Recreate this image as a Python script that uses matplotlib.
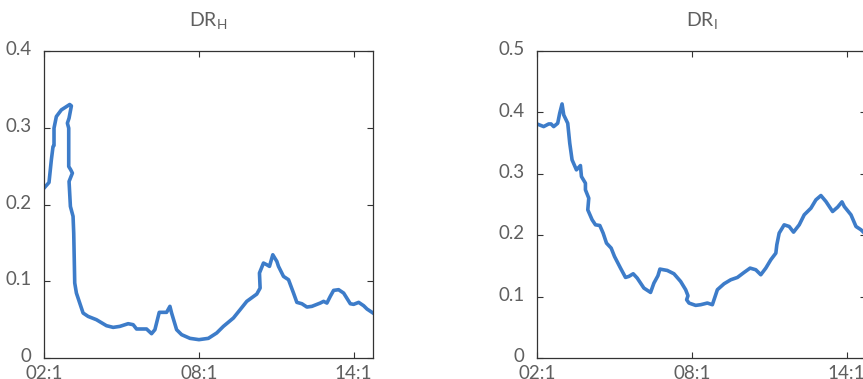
import matplotlib
matplotlib.use("Agg")
import matplotlib.pyplot as plt
from matplotlib.transforms import ScaledTranslation

# hours after 02:15
t_h = [0, 0.194, 0.285, 0.350, 0.388, 0.388, 0.479, 0.673, 0.997, 1.061, 0.971, 0.906,
       0.958, 0.958, 1.036, 1.100, 0.971, 1.023, 1.126, 1.152, 1.191, 1.256, 1.385, 1.515,
       1.709, 2.032, 2.421, 2.680, 2.939, 3.262, 3.456, 3.586, 3.974, 4.168, 4.298, 4.466,
       4.751, 4.880, 4.945, 5.139, 5.333, 5.657, 6.006, 6.369, 6.693, 6.951, 7.340, 7.599,
       7.858, 8.246, 8.375, 8.350, 8.505, 8.634, 8.738, 8.867, 9.023, 9.087, 9.282, 9.476,
       9.670, 9.799, 9.994, 10.188, 10.382, 10.706, 10.835, 10.964, 11.094, 11.223, 11.417,
       11.612, 11.871, 12.0, 12.194, 12.388, 12.518, 12.751]
dr_h = [0.2213, 0.2287, 0.2582, 0.2756, 0.2769, 0.2995, 0.3146, 0.3233, 0.3303, 0.3285,
        0.3125, 0.306, 0.2995, 0.2495, 0.2452, 0.2409, 0.23, 0.1975, 0.1845, 0.1627, 0.0977,
        0.0846, 0.0716, 0.0586, 0.0542, 0.0499, 0.0421, 0.0399, 0.0412, 0.0447, 0.0434,
        0.0378, 0.0378, 0.0317, 0.0369, 0.0595, 0.0595, 0.0673, 0.0586, 0.0369, 0.0304,
        0.0256, 0.0239, 0.0256, 0.0326, 0.0412, 0.0521, 0.0629, 0.0738, 0.0833, 0.0911,
        0.1107, 0.1237, 0.1215, 0.1194, 0.1345, 0.1259, 0.1194, 0.1063, 0.102, 0.0846,
        0.0725, 0.0707, 0.0664, 0.0673, 0.0716, 0.0738, 0.0716, 0.0803, 0.0881, 0.089,
        0.0846, 0.0707, 0.0699, 0.0725, 0.0681, 0.0638, 0.0586]

t_i = [0, 0.259, 0.453, 0.544, 0.647, 0.802, 0.880, 0.971, 1.036, 1.191, 1.269, 1.359,
       1.528, 1.683, 1.722, 1.877, 1.877, 2.006, 1.968, 2.136, 2.266, 2.434, 2.563, 2.693,
       2.874, 3.003, 3.236, 3.430, 3.560, 3.728, 3.883, 4.142, 4.401, 4.531, 4.686, 4.764,
       5.049, 5.307, 5.566, 5.761, 5.851, 5.799, 5.890, 6.149, 6.343, 6.602, 6.796, 6.990,
       7.249, 7.508, 7.767, 8.026, 8.259, 8.479, 8.673, 8.867, 9.061, 9.256, 9.294, 9.385,
       9.579, 9.773, 9.942, 10.162, 10.356, 10.615, 10.809, 11.003, 11.197, 11.456, 11.65,
       11.819, 11.909, 12.168, 12.362, 12.557, 12.686, 12.75]
dr_i = [0.3812, 0.3769, 0.3812, 0.3812, 0.3769, 0.3823, 0.3986, 0.4138, 0.3959, 0.3823,
        0.3498, 0.3227, 0.3064, 0.3134, 0.2956, 0.2847, 0.2739, 0.2603, 0.2413, 0.2251,
        0.2169, 0.2158, 0.2034, 0.1871, 0.179, 0.1654, 0.1464, 0.1312, 0.1329, 0.1372,
        0.1302, 0.1139, 0.1068, 0.122, 0.1339, 0.1448, 0.1426, 0.1372, 0.1247, 0.1112,
        0.1014, 0.0949, 0.0895, 0.0857, 0.0868, 0.0895, 0.0868, 0.1112, 0.1209, 0.1274,
        0.1312, 0.1394, 0.1464, 0.1437, 0.1356, 0.1464, 0.16, 0.1708, 0.1844, 0.2034,
        0.2169, 0.2142, 0.205, 0.2169, 0.2332, 0.244, 0.2576, 0.2646, 0.2549, 0.2386,
        0.2457, 0.2543, 0.2467, 0.2332, 0.2142, 0.2088, 0.2034, 0.2000]

x_ticks = [0, 6, 12]
x_labels = ["02:1", "08:1", "14:1"]
y_ticks_h = [0, 0.1, 0.2, 0.3, 0.4]
y_labels_h = ["0", "0.1", "0.2", "0.3", "0.4"]
y_ticks_i = [0, 0.1, 0.2, 0.3, 0.4, 0.5]
y_labels_i = ["0", "0.1", "0.2", "0.3", "0.4", "0.5"]

plt.rcParams['font.family'] = ['Lato', 'DejaVu Sans']
plt.rcParams['mathtext.fontset'] = 'custom'
plt.rcParams['mathtext.rm'] = 'Lato'

line_color = '#3d7cc9'
text_color = '#5f5f5f'

fig = plt.figure(figsize=(8.63, 3.79), dpi=100)
ax1 = fig.add_axes([44 / 863, 1 - 358 / 379, 329 / 863, 307 / 379])
ax2 = fig.add_axes([537 / 863, 1 - 358 / 379, 329 / 863, 307 / 379])


def style(ax, yt, yl, ymax, title):
    ax.set_xlim(0, 12.75)
    ax.set_ylim(0, ymax)
    ax.set_xticks(x_ticks)
    ax.set_xticklabels(x_labels)
    ax.set_yticks(yt)
    ax.set_yticklabels(yl)
    ax.tick_params(direction='in', top=True, right=True, length=4, width=0.8,
                   color='#333333', labelcolor=text_color, labelsize=13.5)
    ax.tick_params(axis='y', pad=9)
    ax.tick_params(axis='x', pad=5)
    # nudge y labels up a little, like the original
    for lab in ax.get_yticklabels():
        lab.set_transform(lab.get_transform() + ScaledTranslation(0, 2 / 72, fig.dpi_scale_trans))
    for sp in ax.spines.values():
        sp.set_color('#333333')
        sp.set_linewidth(0.9)
    ax.set_title(title, color=text_color, fontsize=14, pad=18)


ax1.plot(t_h, dr_h, color=line_color, linewidth=2.6, solid_joinstyle='round')
style(ax1, y_ticks_h, y_labels_h, 0.4, r'$\mathregular{DR_H}$')

ax2.plot(t_i, dr_i, color=line_color, linewidth=2.6, solid_joinstyle='round')
style(ax2, y_ticks_i, y_labels_i, 0.5, r'$\mathregular{DR_I}$')

plt.savefig('out.png', dpi=100)
plt.close()
